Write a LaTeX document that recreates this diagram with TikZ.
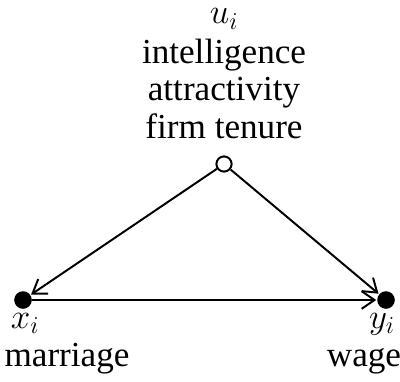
\documentclass[tikz,border=0pt]{standalone}
\usepackage{fontspec}
\setmainfont{Liberation Serif}
\usetikzlibrary{arrows.meta}

\tikzset{
  soliddot/.style={circle, fill=black, inner sep=0pt, minimum size=0.44cm},
  hollowdot/.style={circle, draw=black, fill=white, line width=1.4pt, inner sep=0pt, minimum size=0.38cm},
  lbl/.style={inner sep=0pt, font=\fontsize{25}{26.6}\selectfont},
  arr/.style={line width=1.4pt, -{Straight Barb[length=0.32cm, width=0.44cm, line width=1.4pt]}, shorten >=0.5pt},
}

\begin{document}
\begin{tikzpicture}[x=0.025cm, y=-0.025cm]
  \useasboundingbox (0,0) rectangle (400,381);
  % nodes
  \node[soliddot] (x) at (23,300) {};
  \node[soliddot] (y) at (386,300) {};
  \node[hollowdot] (u) at (224,164) {};
  % labels
  \node[lbl, anchor=base] (ulbl) at (224,24) {$u_i$};
  \node[lbl, align=center, anchor=base] (utxt) at (224,138) {intelligence\\attractivity\\firm tenure};
  \node[lbl, anchor=base] (xlbl) at (25,328) {$x_i$};
  \node[lbl, anchor=base] (xtxt) at (67,366) {marriage};
  \node[lbl, anchor=base] (ylbl) at (382,328) {$y_i$};
  \node[lbl, anchor=base] (ytxt) at (364,366) {wage};
  % edges
  \draw[arr] (u) -- (x);
  \draw[arr] (u) -- (y);
  \draw[arr] (x) -- (y);
\end{tikzpicture}
\end{document}
